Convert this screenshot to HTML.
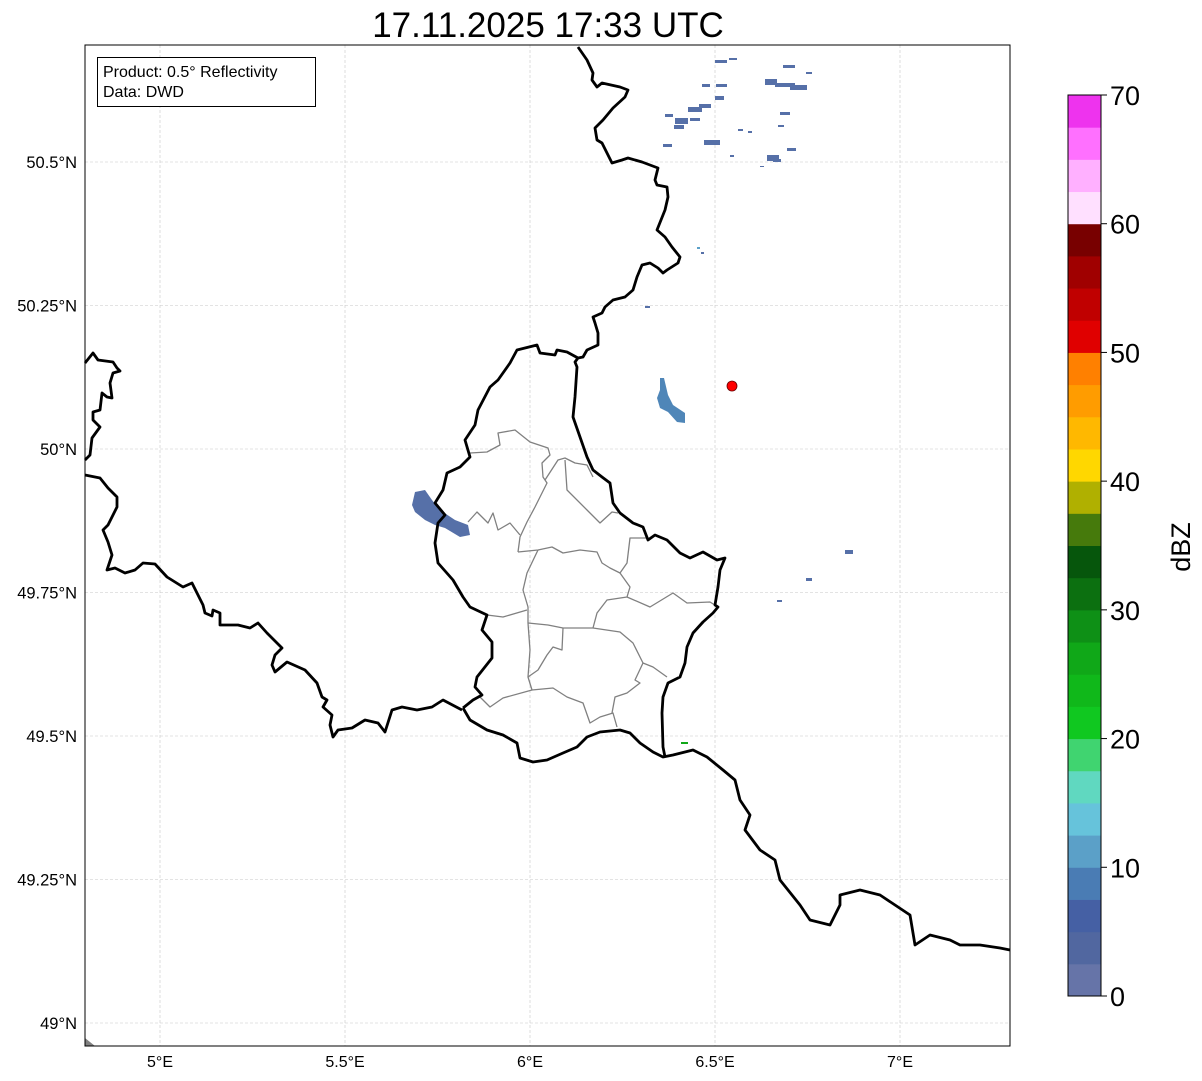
<!DOCTYPE html>
<html><head><meta charset="utf-8"><style>
body{margin:0;background:#fff;}
svg{display:block;font-family:"Liberation Sans","DejaVu Sans",sans-serif;}
</style></head><body>
<svg id="fig" width="1202" height="1081" viewBox="0 0 1202 1081" xmlns="http://www.w3.org/2000/svg">
<rect x="0" y="0" width="1202" height="1081" fill="#fff"/>
<text x="548" y="37" font-size="35" text-anchor="middle">17.11.2025 17:33 UTC</text>
<g id="grid"></g>
<g id="echoes" fill="#5670a8">
<polygon points="415,492 425,490 432,500 440,510 455,520 468,525 470,535 460,537 445,528 435,525 425,520 415,512 412,505"/>
<polygon points="660,378 664,378 668,395 673,405 685,413 685,423 677,422 668,412 660,408 657,398 660,390" fill="#4f86b8"/>
<rect x="715" y="60" width="12" height="3"/><rect x="729" y="58" width="8" height="2"/>
<rect x="783" y="65" width="12" height="3"/><rect x="806" y="72" width="6" height="2"/>
<rect x="702" y="84" width="8" height="3"/><rect x="716" y="84" width="11" height="3"/>
<rect x="765" y="79" width="12" height="6"/><rect x="775" y="83" width="20" height="4"/><rect x="790" y="85" width="17" height="5"/>
<rect x="699" y="104" width="12" height="4"/><rect x="715" y="96" width="9" height="4"/>
<rect x="688" y="107" width="14" height="5"/><rect x="675" y="118" width="13" height="6"/><rect x="690" y="118" width="10" height="3"/>
<rect x="665" y="114" width="8" height="3"/><rect x="674" y="125" width="10" height="4"/>
<rect x="704" y="140" width="16" height="5"/><rect x="663" y="144" width="9" height="3"/>
<rect x="738" y="129" width="5" height="2"/><rect x="748" y="131" width="4" height="2"/>
<rect x="780" y="112" width="10" height="3"/><rect x="778" y="125" width="6" height="2"/>
<rect x="787" y="148" width="9" height="3"/><rect x="767" y="155" width="12" height="6"/><rect x="773" y="159" width="8" height="3"/>
<rect x="730" y="155" width="4" height="2"/><rect x="760" y="166" width="4" height="1"/>
<rect x="697" y="247" width="3" height="2" fill="#5ba0c8"/><rect x="701" y="252" width="3" height="2"/>
<rect x="645" y="306" width="5" height="2"/>
<rect x="845" y="550" width="8" height="4"/><rect x="806" y="578" width="6" height="3"/><rect x="777" y="600" width="5" height="2"/>
<rect x="681" y="742" width="7" height="2" fill="#10a818"/>
</g>
<g fill="none" stroke="#808080" stroke-width="1.3" stroke-linejoin="round">
<polyline points="470,453 487,452 500,445 498,433 515,430 530,442 548,448 550,455 542,463 543,477 547,483 535,507 527,522 520,537 518,552"/>
<polyline points="545,480 558,460 565,458 575,463 587,465 593,477"/>
<polyline points="565,460 567,490 587,510 600,523 612,512 618,513"/>
<polyline points="468,522 477,512 488,523 493,513 498,530 510,523 520,535"/>
<polyline points="518,552 538,550 552,547 563,553 580,550 597,552 602,563 610,568 620,573 627,563 630,538 647,538"/>
<polyline points="538,550 527,573 523,590 528,607 528,623 530,650 528,677 532,690"/>
<polyline points="620,573 630,587 627,597 607,600 597,613 593,628"/>
<polyline points="627,597 650,607 673,593 687,603 710,602 718,607"/>
<polyline points="487,615 503,617 527,610"/>
<polyline points="528,623 548,625 563,628 593,628 620,632 633,643 643,663 653,667 667,677"/>
<polyline points="563,628 562,650 553,647 547,655 538,670 528,677"/>
<polyline points="480,697 490,707 503,698 532,690 553,688 567,697 583,703 590,723 600,717 613,713 617,727"/>
<polyline points="643,663 635,680 640,683 627,693 615,697 612,713"/>
</g>
<g fill="none" stroke="#000" stroke-width="2.8" stroke-linejoin="round">
<polyline points="578,47 587,60 593,73 592,80 597,87 602,83 620,87 628,90 625,97 613,108 603,120 595,128 597,140 602,143 612,163 622,160 628,158 642,162 650,165 658,168 655,180 657,185 667,187 668,197 665,210 657,230 665,237 672,247 680,257 678,263 667,270 663,273 658,268 650,263 642,265 637,277 633,290 625,297 613,300 605,307 602,313 593,317 595,323 598,333 598,345 587,350 583,357 578,358 575,362 577,367 575,397 573,417 580,437 587,457 593,470 602,477 610,483 613,503 620,513 633,523 643,527 648,540 655,535 667,540 680,553 690,558 703,552 717,560 725,558 720,570 718,587 715,605 718,607 713,613 703,622 693,633 687,647 685,663 680,677 668,683 663,697 662,713 663,747 665,757"/>
<polyline points="578,358 567,352 557,350 555,355 540,353 537,345 517,350 510,363 498,380 490,387 478,410 475,425 465,440 470,457 460,467 447,473 443,490 435,503 445,515 438,523 435,543 438,563 453,580 463,597 470,607 487,615 482,630 492,642 492,658 477,677 475,687 482,695 473,700 463,708"/>
<polyline points="463,708 470,720 487,730 503,735 517,743 520,758 533,762 547,760 563,753 577,747 587,737 600,732 620,730 630,733 640,743 653,752 663,757 673,755 693,750 707,757 723,770 735,780 740,800 750,815 745,830 760,850 775,860 780,880 800,905 810,920 830,925 840,905 840,895 860,890 880,895 895,905 910,915 915,945 930,935 950,940 960,945 980,945 1000,948 1010,950"/>
<polyline points="85,475 100,478 108,488 117,497 117,507 108,525 103,530 108,542 112,555 107,570 115,568 125,573 135,570 143,563 155,564 167,577 183,587 192,583 203,605 205,613 212,616 213,610 220,613 220,625 238,625 250,628 258,623 267,633 282,648 275,655 272,665 275,672 287,662 305,670 317,683 322,697 327,700 323,707 332,715 330,725 333,737 338,730 352,728 365,720 378,723 385,732 392,710 402,707 417,710 432,707 443,700 462,710"/>
<polyline points="85,363 93,353 98,360 113,362 117,368 120,371 113,373 110,383 112,398 107,397 102,393 100,410 93,412 93,420 100,427 92,438 90,455 85,460"/>
</g>
<polygon points="85,1038 95,1046 85,1046" fill="#808080"/>
<circle cx="732" cy="386" r="5" fill="#ff0000" stroke="#600" stroke-width="0.8"/>
<rect x="85" y="45" width="925" height="1001" fill="none" stroke="#000" stroke-width="1"/>
<g>
<rect x="97.5" y="57.5" width="218" height="49" fill="#fff" stroke="#000" stroke-width="1"/>
<text x="103" y="77" font-size="16">Product: 0.5° Reflectivity</text>
<text x="103" y="97" font-size="16">Data: DWD</text>
</g>
<g id="axes"></g>
<g id="cbar"></g>
<text x="1190" y="547" font-size="27" text-anchor="middle" transform="rotate(-90 1190 547)">dBZ</text>
</svg>
<script>
const lonTicks = [5, 5.5, 6, 6.5, 7];
const lonLabels = ["5°E", "5.5°E", "6°E", "6.5°E", "7°E"];
const latTicks = [50.5, 50.25, 50, 49.75, 49.5, 49.25, 49];
const latLabels = ["50.5°N", "50.25°N", "50°N", "49.75°N", "49.5°N", "49.25°N", "49°N"];
const cbarColors = ["#6674a8","#5167a0","#4560a4","#4a7cb4","#5ba0c8","#66c3db","#60d8c0","#40d470","#10c820","#10b81a","#10a818","#0e9016","#0c7010","#06560c","#467a0c","#b0b000","#ffd700","#ffb800","#ff9c00","#ff8000","#e00000","#c00000","#a00000","#780000","#ffe0ff","#ffb0ff","#ff70ff","#ee33ee"];
const cbarTicks = [0, 10, 20, 30, 40, 50, 60, 70];
const cbarStep = 2.5;
const NS = "http://www.w3.org/2000/svg";
function xOf(lon){ return 160 + (lon - 5) * 370; }
function yOf(lat){ return 449 - (lat - 50) * 574; }
function cY(v){ return 996 - v / 70 * 901; }
function mk(tag, attrs, parent){ const e = document.createElementNS(NS, tag); for (const k in attrs) e.setAttribute(k, attrs[k]); parent.appendChild(e); return e; }
const grid = document.getElementById('grid'), axes = document.getElementById('axes'), cbar = document.getElementById('cbar');
lonTicks.forEach((lon, i) => {
  const x = xOf(lon);
  const l = mk('line', {x1:x, x2:x, y1:45, y2:1046, stroke:'#c8c8c8', 'stroke-width':0.6, 'stroke-dasharray':'3,2'}, grid);
  
  
  const t = mk('text', {x:x, y:1067, 'font-size':16, 'text-anchor':'middle'}, axes);
  t.textContent = lonLabels[i];
  
  
});
latTicks.forEach((lat, i) => {
  const y = yOf(lat);
  const l = mk('line', {x1:85, x2:1010, y1:y, y2:y, stroke:'#c8c8c8', 'stroke-width':0.6, 'stroke-dasharray':'3,2'}, grid);
  
  
  const t = mk('text', {x:77, y:y + 6, 'font-size':16.5, 'text-anchor':'end'}, axes);
  t.textContent = latLabels[i];
  
  
});
cbarColors.forEach((c, i) => {
  const v0 = i * cbarStep, v1 = (i + 1) * cbarStep;
  if (v1 > 70.01) return;
  const r = mk('rect', {x:1068, y:cY(v1), width:33, height:cY(v0) - cY(v1) + 0.5, fill:c}, cbar);
  
  
});
const fr = mk('rect', {x:1068, y:cY(70), width:33, height:cY(0) - cY(70), fill:'none', stroke:'#000', 'stroke-width':1}, cbar);


cbarTicks.forEach(v => {
  const y = cY(v);
  mk('line', {x1:1101, x2:1107, y1:y, y2:y, stroke:'#000', 'stroke-width':1}, cbar);
  const t = mk('text', {x:1110, y:y + 10, 'font-size':27}, cbar);
  t.textContent = v;
  
  
});
</script>
</body></html>
